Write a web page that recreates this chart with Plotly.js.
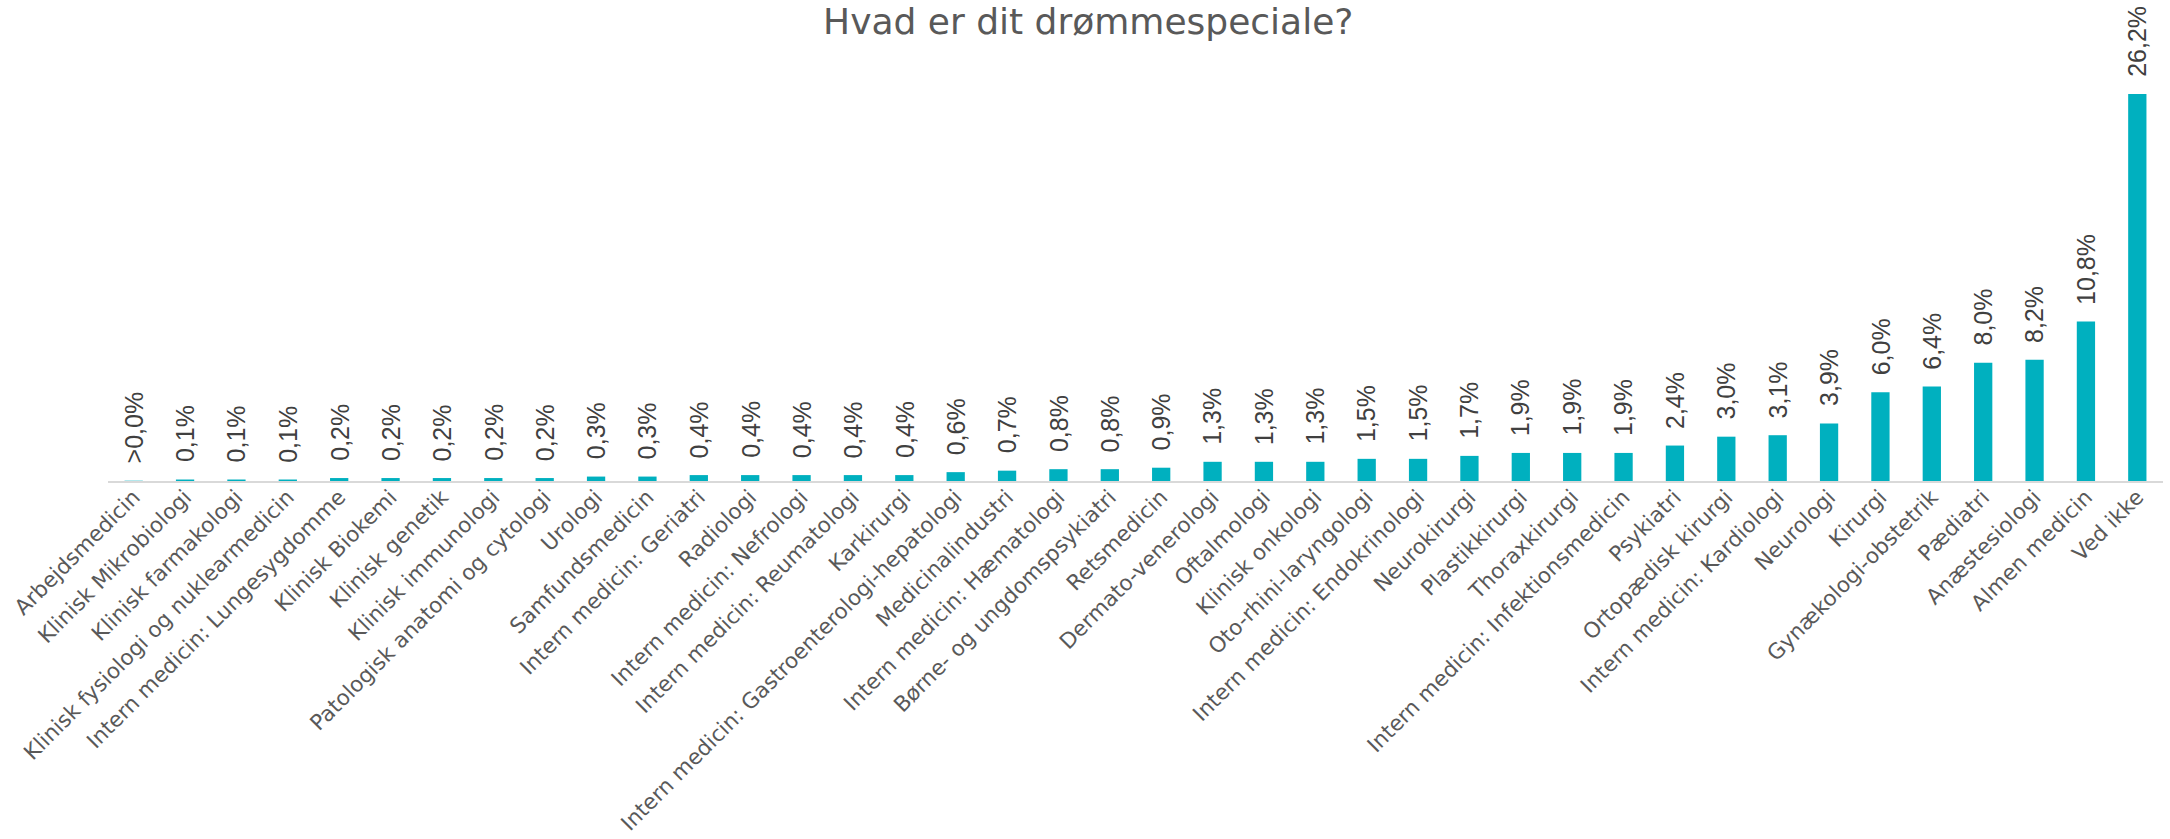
<!DOCTYPE html>
<html>
<head>
<meta charset="utf-8">
<script src="https://cdn.plot.ly/plotly-3.0.1.min.js"></script>
<style>
  html, body { margin: 0; padding: 0; background: #ffffff; }
  #chart { width: 2170px; height: 839px; }
</style>
</head>
<body>
<div id="chart"></div>
<script>
const categories = [
  "Arbejdsmedicin", "Klinisk Mikrobiologi", "Klinisk farmakologi",
  "Klinisk fysiologi og nuklearmedicin", "Intern medicin: Lungesygdomme",
  "Klinisk Biokemi", "Klinisk genetik", "Klinisk immunologi",
  "Patologisk anatomi og cytologi", "Urologi", "Samfundsmedicin",
  "Intern medicin: Geriatri", "Radiologi", "Intern medicin: Nefrologi",
  "Intern medicin: Reumatologi", "Karkirurgi",
  "Intern medicin: Gastroenterologi-hepatologi", "Medicinalindustri",
  "Intern medicin: Hæmatologi", "Børne- og ungdomspsykiatri", "Retsmedicin",
  "Dermato-venerologi", "Oftalmologi", "Klinisk onkologi",
  "Oto-rhini-laryngologi", "Intern medicin: Endokrinologi", "Neurokirurgi",
  "Plastikkirurgi", "Thoraxkirurgi", "Intern medicin: Infektionsmedicin",
  "Psykiatri", "Ortopædisk kirurgi", "Intern medicin: Kardiologi",
  "Neurologi", "Kirurgi", "Gynækologi-obstetrik", "Pædiatri",
  "Anæstesiologi", "Almen medicin", "Ved ikke"
];

const values = [
  0.02, 0.1, 0.1, 0.1, 0.2, 0.2, 0.2, 0.2, 0.2, 0.3, 0.3, 0.4, 0.4, 0.4,
  0.4, 0.4, 0.6, 0.7, 0.8, 0.8, 0.9, 1.3, 1.3, 1.3, 1.5, 1.5, 1.7, 1.9,
  1.9, 1.9, 2.4, 3.0, 3.1, 3.9, 6.0, 6.4, 8.0, 8.2, 10.8, 26.2
];

const valueLabels = [
  ">0,0%", "0,1%", "0,1%", "0,1%", "0,2%", "0,2%", "0,2%", "0,2%", "0,2%",
  "0,3%", "0,3%", "0,4%", "0,4%", "0,4%", "0,4%", "0,4%", "0,6%", "0,7%",
  "0,8%", "0,8%", "0,9%", "1,3%", "1,3%", "1,3%", "1,5%", "1,5%", "1,7%",
  "1,9%", "1,9%", "1,9%", "2,4%", "3,0%", "3,1%", "3,9%", "6,0%", "6,4%",
  "8,0%", "8,2%", "10,8%", "26,2%"
];

const chartTitle = "Hvad er dit drømmespeciale?";

const trace = {
  type: "bar",
  x: categories,
  y: values,
  marker: { color: "#00B0BF" },
  hoverinfo: "x+y"
};

const annotations = categories.map((c, i) => ({
  x: c,
  y: values[i],
  xref: "x",
  yref: "y",
  text: valueLabels[i],
  showarrow: false,
  textangle: -90,
  xanchor: "center",
  yanchor: "bottom",
  yshift: 15,
  font: { family: "Liberation Sans, Arial, sans-serif", size: 25, color: "#404040" }
}));

const layout = {
  width: 2170,
  height: 839,
  paper_bgcolor: "#ffffff",
  plot_bgcolor: "#ffffff",
  margin: { l: 108, r: 7, t: 60, b: 358 },
  bargap: 0.644,
  showlegend: false,
  title: {
    text: chartTitle,
    font: { family: "DejaVu Sans, sans-serif", size: 36, color: "#595959" },
    xref: "container",
    yref: "container",
    x: 0.5015,
    xanchor: "center",
    y: 1 - 21 / 839,
    yanchor: "middle"
  },
  xaxis: {
    type: "category",
    tickangle: -45,
    tickfont: { family: "DejaVu Sans, sans-serif", size: 21.5, color: "#595959" },
    ticklabelstandoff: -7,
    showline: true,
    linecolor: "#D9D9D9",
    linewidth: 2,
    showgrid: false,
    zeroline: false,
    ticks: "",
    automargin: false
  },
  yaxis: {
    range: [0, 28.5],
    visible: false,
    showgrid: false,
    zeroline: false,
    fixedrange: true
  },
  annotations: annotations
};

Plotly.newPlot("chart", [trace], layout, { displayModeBar: false, staticPlot: true });
</script>
</body>
</html>
